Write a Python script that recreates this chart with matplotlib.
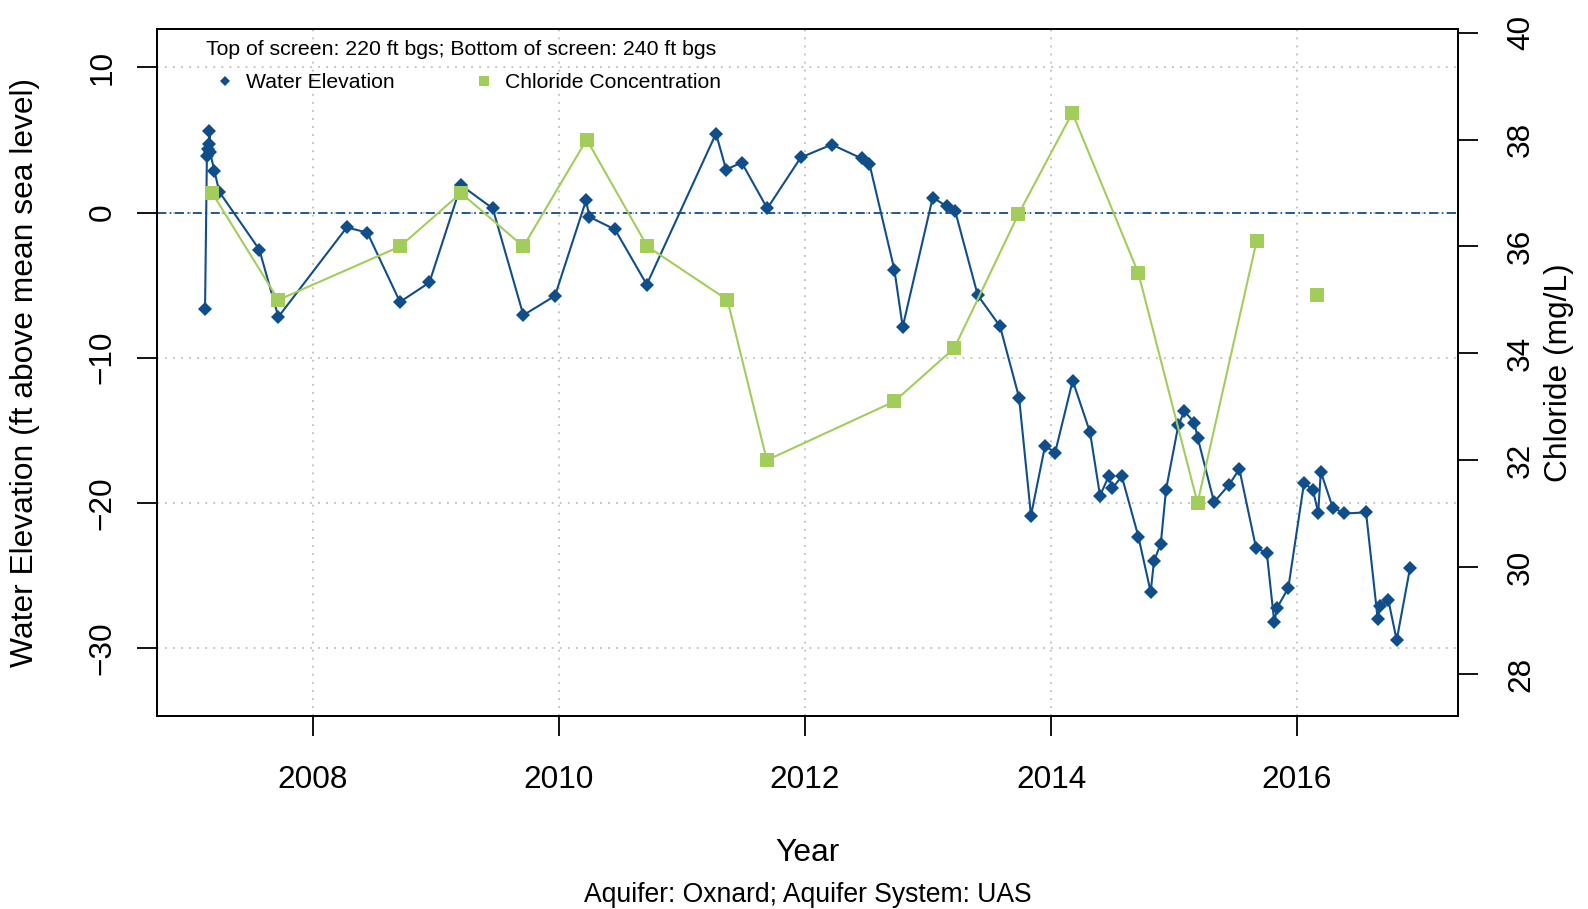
import matplotlib
matplotlib.use("Agg")
import matplotlib.pyplot as plt
from matplotlib.lines import Line2D

plt.rcParams['font.family'] = ['Liberation Sans', 'DejaVu Sans']
plt.rcParams['lines.scale_dashes'] = False
plt.rcParams['axes.unicode_minus'] = True

# ---------------- data ----------------
water_years = [
    2007.122, 2007.137, 2007.146, 2007.154, 2007.158, 2007.163, 2007.198, 2007.238,
    2007.563, 2007.718, 2008.274, 2008.441, 2008.707, 2008.946, 2009.203, 2009.461,
    2009.710, 2009.967, 2010.220, 2010.246, 2010.455, 2010.713, 2011.276, 2011.358,
    2011.485, 2011.693, 2011.965, 2012.217, 2012.461, 2012.523, 2012.726, 2012.794,
    2013.038, 2013.152, 2013.220, 2013.404, 2013.585, 2013.740, 2013.837, 2013.951,
    2014.033, 2014.176, 2014.317, 2014.398, 2014.469, 2014.498, 2014.575, 2014.710,
    2014.810, 2014.837, 2014.892, 2014.935, 2015.035, 2015.084, 2015.165, 2015.193,
    2015.325, 2015.447, 2015.531, 2015.667, 2015.754, 2015.815, 2015.837, 2015.929,
    2016.057, 2016.130, 2016.172, 2016.193, 2016.290, 2016.384, 2016.561, 2016.656,
    2016.675, 2016.742, 2016.810, 2016.919,
]
water_elev = [
    -6.63, 3.90, 4.35, 4.70, 5.63, 4.15, 2.87, 1.42,
    -2.55, -7.19, -1.03, -1.38, -6.16, -4.82, 1.88, 0.28,
    -7.07, -5.74, 0.85, -0.30, -1.17, -4.96, 5.44, 2.96,
    3.44, 0.28, 3.79, 4.68, 3.72, 3.37, -3.93, -7.88,
    1.03, 0.43, 0.12, -5.70, -7.83, -12.75, -20.87, -16.07,
    -16.54, -11.58, -15.14, -19.50, -18.17, -19.00, -18.17, -22.32,
    -26.14, -23.99, -22.82, -19.08, -14.65, -13.68, -14.48, -15.54,
    -19.95, -18.75, -17.68, -23.12, -23.44, -28.22, -27.24, -25.85,
    -18.61, -19.13, -20.69, -17.86, -20.32, -20.73, -20.66, -28.03,
    -27.11, -26.68, -29.46, -24.46,
]

chloride_years = [
    2007.180, 2007.718, 2008.707, 2009.203, 2009.710, 2010.225, 2010.718, 2011.369,
    2011.689, 2012.726, 2013.214, 2013.734, 2014.173, 2014.710, 2015.191, 2015.671,
    2016.165,
]
chloride_mgL = [
    37.0, 35.0, 36.0, 37.0, 36.0, 38.0, 36.0, 35.0,
    32.0, 33.1, 34.1, 36.6, 38.5, 35.5, 31.2, 36.1,
    35.1,
]
n_connected = 16  # last chloride sample stands alone (no connecting line)

year_ticks = [2008, 2010, 2012, 2014, 2016]
elev_ticks = [-30, -20, -10, 0, 10]
chloride_ticks = [28, 30, 32, 34, 36, 38, 40]

BLUE = '#104E8B'
GREEN = '#A2CD5A'
GRID = '#BEBEBE'

# ---------------- figure ----------------
fig = plt.figure(figsize=(15.88, 9.09), dpi=100)
ax = fig.add_axes([0.09868, 0.21232, 0.81965, 0.75578])

ax.set_xlim(2006.729, 2017.311)
ax.set_ylim(-34.68, 12.64)
ax.set_xticks(year_ticks)
ax.set_yticks(elev_ticks)
ax.set_xticklabels([str(y) for y in year_ticks])

ax.grid(True, color=GRID, linestyle=(0, (1.3, 4.5)), linewidth=1.3)
ax.set_axisbelow(True)

ax.axhline(0, color=BLUE, linewidth=1.3, linestyle=(0, (6.5, 2.6, 1.2, 2.6)), zorder=2)

ax.plot(water_years, water_elev, color=BLUE, linewidth=1.5, marker='D',
        markersize=7.0, markeredgewidth=0, zorder=3)

for sp in ax.spines.values():
    sp.set_linewidth(1.3)

ax.tick_params(axis='both', direction='out', length=14.4, width=1.3,
               labelsize=22.7, colors='black')
ax.tick_params(axis='x', pad=20.8)
ax.tick_params(axis='y', labelrotation=90, pad=13.8)
plt.setp(ax.get_yticklabels(), va='center')

ax.set_xlabel('Year', fontsize=22.9, va='center')
ax.xaxis.set_label_coords(0.5, -0.1995)
ax.set_ylabel('Water Elevation (ft above mean sea level)', fontsize=22.9, va='center')
ax.yaxis.set_label_coords(-0.1010, 0.5)

# secondary axis: chloride
ax2 = ax.twinx()
ax2.set_ylim(27.214, 40.069)
ax2.set_yticks(chloride_ticks)
ax2.plot(chloride_years[:n_connected], chloride_mgL[:n_connected], color=GREEN,
         linewidth=1.5, zorder=3)
ax2.plot(chloride_years, chloride_mgL, color=GREEN, linestyle='none', marker='s',
         markersize=10.6, markeredgewidth=0, zorder=4)
for sp in ax2.spines.values():
    sp.set_linewidth(1.3)
ax2.tick_params(axis='y', direction='out', length=14.4, width=1.3, labelsize=22.7,
                labelrotation=90, pad=19.9)
plt.setp(ax2.get_yticklabels(), va='center')
ax2.set_ylabel('Chloride (mg/L)', fontsize=22.9, rotation=90, va='center')
ax2.yaxis.set_label_coords(1.0770, 0.5)

# legend
ax2.text(0.0376, 0.9622, 'Top of screen: 220 ft bgs; Bottom of screen: 240 ft bgs',
         transform=ax2.transAxes, fontsize=15.3, va='baseline', ha='left')
handles = [
    Line2D([], [], color=BLUE, marker='D', linestyle='none', markersize=4.7,
           markeredgewidth=0, label='Water Elevation'),
    Line2D([], [], color=GREEN, marker='s', linestyle='none', markersize=7.7,
           markeredgewidth=0, label='Chloride Concentration'),
]
ax2.legend(handles=handles, ncol=2, loc='upper left', bbox_to_anchor=(0.0447, 0.936),
           frameon=False, fontsize=15.2, handlelength=1.0, handletextpad=0.47,
           columnspacing=3.75, borderpad=0, borderaxespad=0)

fig.text(0.5085, 1 - 895 / 909, 'Aquifer: Oxnard; Aquifer System: UAS',
         fontsize=19.1, ha='center', va='center')

fig.savefig('out.png', dpi=100)
